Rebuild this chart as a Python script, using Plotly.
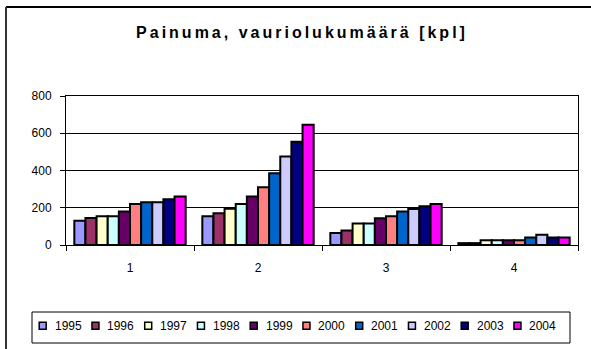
import plotly.graph_objects as go

# Damage counts (kpl) per category and year
categories = ["1", "2", "3", "4"]
years = ["1995", "1996", "1997", "1998", "1999", "2000", "2001", "2002", "2003", "2004"]
values = {
    "1995": [130, 155, 65, 10],
    "1996": [145, 170, 78, 10],
    "1997": [155, 195, 115, 25],
    "1998": [155, 220, 115, 25],
    "1999": [180, 260, 143, 25],
    "2000": [220, 310, 155, 25],
    "2001": [230, 385, 180, 40],
    "2002": [230, 475, 193, 55],
    "2003": [245, 555, 208, 40],
    "2004": [260, 645, 220, 40],
}
colors = ["#9999FF", "#993366", "#FFFFCC", "#CCFFFF", "#660066",
          "#FF8080", "#0066CC", "#CCCCFF", "#000080", "#FF00FF"]
y_ticks = [0, 200, 400, 600, 800]

W, H = 591, 349
ML, MR, MT, MB = 66, 13, 96, 104
PW, PH = W - ML - MR, H - MT - MB
FONT = "Arial, Liberation Sans, sans-serif"


def px_x(x):
    return (x - ML) / PW


def px_y(y):
    return (H - MB - y) / PH


fig = go.Figure()
for year, col in zip(years, colors):
    fig.add_trace(go.Bar(
        x=categories, y=values[year], name=year,
        marker=dict(color=col, line=dict(color="black", width=2)),
        showlegend=False,
    ))

shapes = [
    # chart frame (left and top edges)
    dict(type="line", xref="paper", yref="paper",
         x0=px_x(6), x1=px_x(W + 5), y0=px_y(7), y1=px_y(7),
         line=dict(color="black", width=2)),
    dict(type="line", xref="paper", yref="paper",
         x0=px_x(6), x1=px_x(6), y0=px_y(7), y1=px_y(H + 5),
         line=dict(color="#333333", width=2)),
    # legend box
    dict(type="rect", xref="paper", yref="paper",
         x0=px_x(32), x1=px_x(570), y0=px_y(312), y1=px_y(343),
         line=dict(color="black", width=1), fillcolor="white"),
]
annotations = []
step = 52.75
for i, (year, col) in enumerate(zip(years, colors)):
    cx = 42.7 + i * step
    cy = 325.7
    shapes.append(dict(type="rect", xref="paper", yref="paper",
                       x0=px_x(cx - 3.5), x1=px_x(cx + 3.5),
                       y0=px_y(cy - 3.5), y1=px_y(cy + 3.5),
                       fillcolor=col, line=dict(color="black", width=1.5)))
    annotations.append(dict(text=year, xref="paper", yref="paper",
                            x=px_x(cx + 10), y=px_y(cy), xanchor="left",
                            yanchor="middle", showarrow=False,
                            font=dict(family=FONT, size=12, color="black")))

fig.update_layout(
    width=W, height=H,
    margin=dict(l=ML, r=MR, t=MT, b=MB),
    paper_bgcolor="white", plot_bgcolor="white",
    barmode="group", bargap=0.13, bargroupgap=0,
    title=dict(
        text='<span style="letter-spacing:3px">Painuma, vauriolukumäärä [kpl]</span>',
        x=302 / W, y=1 - 32 / H, xanchor="center", yanchor="middle",
        font=dict(family=FONT, size=16, color="black", weight="bold"),
    ),
    font=dict(family=FONT, size=12, color="black"),
    xaxis=dict(
        type="category", showline=True, linecolor="black", linewidth=1,
        mirror=True, ticks="outside", ticklen=5, tickcolor="black",
        tickson="boundaries", showgrid=False, ticklabelstandoff=12,
        tickfont=dict(family=FONT, size=12, color="black"),
    ),
    yaxis=dict(
        range=[0, 800], tickvals=y_ticks, showline=True, linecolor="black",
        linewidth=1, mirror=True, ticks="outside", ticklen=5,
        tickcolor="black", showgrid=True, gridcolor="black", gridwidth=1,
        zeroline=False, ticklabelstandoff=6,
        tickfont=dict(family=FONT, size=12, color="black"),
    ),
    shapes=shapes,
    annotations=annotations,
)

fig.write_html("out.html")
